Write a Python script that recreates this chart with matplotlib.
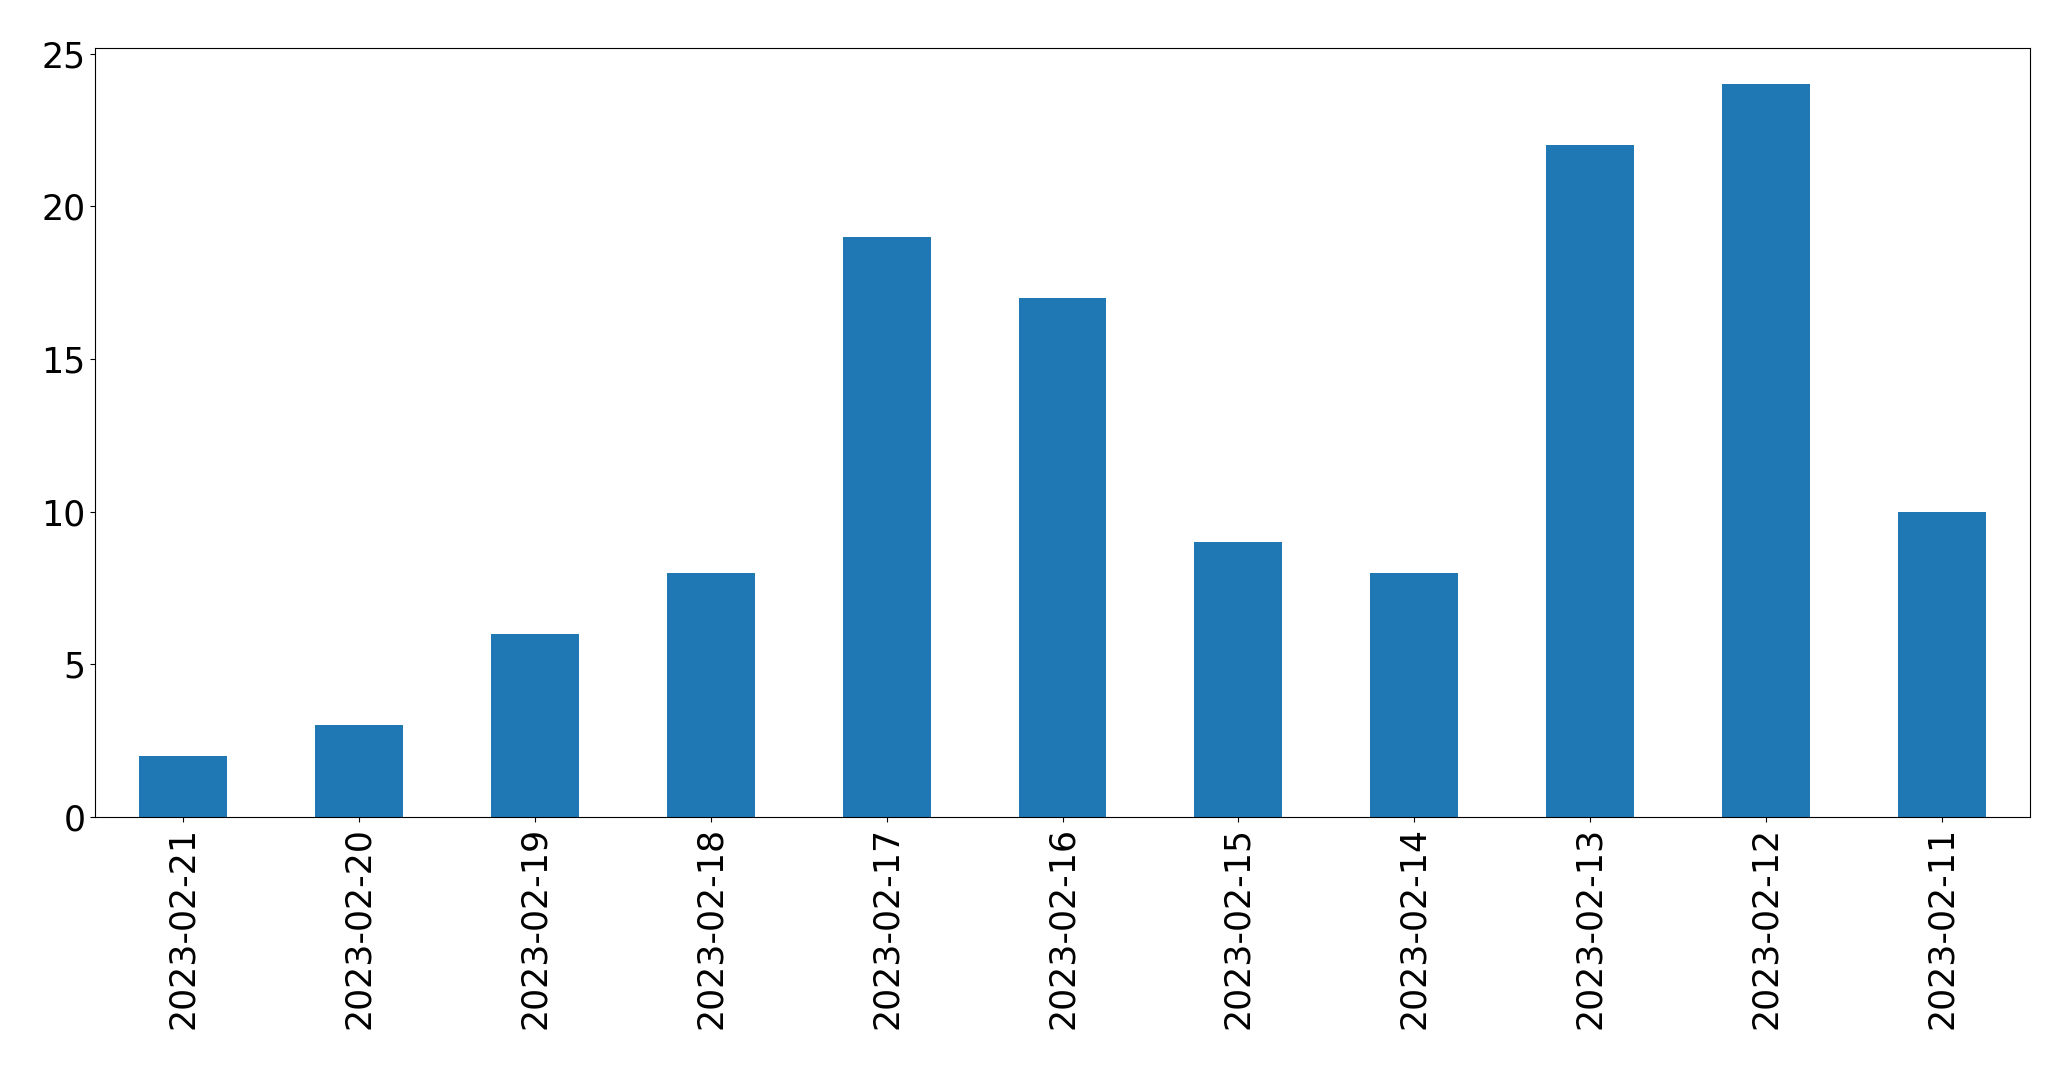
import matplotlib
matplotlib.use("Agg")
import matplotlib.pyplot as plt

dates = ["2023-02-21", "2023-02-20", "2023-02-19", "2023-02-18", "2023-02-17",
         "2023-02-16", "2023-02-15", "2023-02-14", "2023-02-13", "2023-02-12",
         "2023-02-11"]
counts = [2, 3, 6, 8, 19, 17, 9, 8, 22, 24, 10]

fig = plt.figure(figsize=(20.71, 10.69), dpi=100)
ax = fig.add_axes([95/2071, 1 - 817/1069, (2030 - 95)/2071, (817 - 47.7)/1069])
x = list(range(len(dates)))
ax.bar(x, counts, width=0.5, color="#1f77b4")
ax.set_xlim(-0.5, len(dates) - 0.5)
ax.set_ylim(0, 25.2)
ax.set_xticks(x)
ax.set_xticklabels(dates, rotation=90)
ax.set_yticks([0, 5, 10, 15, 20, 25])
ax.tick_params(axis="both", labelsize=25)
fig.savefig("out.png", dpi=100)
